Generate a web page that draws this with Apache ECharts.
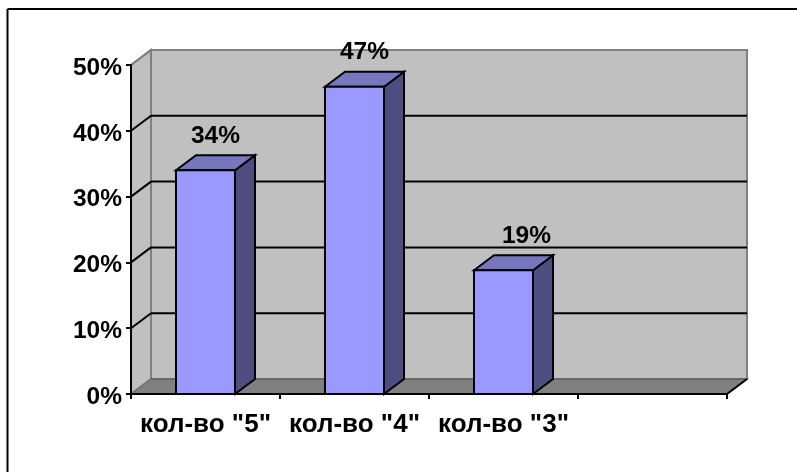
<!DOCTYPE html>
<html><head><meta charset="utf-8">
<style>html,body{margin:0;padding:0;background:#fff}#c{width:797px;height:472px}</style>
<script src="https://cdn.jsdelivr.net/npm/echarts@6/dist/echarts.min.js"></script>
</head><body><div id="c"></div>
<script>
const categories = ['кол-во "5"', 'кол-во "4"', 'кол-во "3"', ''];
const values = [0.34, 0.467, 0.188, null];
const valueLabels = ['34%', '47%', '19%', ''];
const gridValues = [0.1, 0.2, 0.3, 0.4, 0.5];
const FONT = '"Liberation Sans", Arial, sans-serif';
const DX = 20, DY = -15;
const BAR_W = 59;
const LABEL_SHIFT = [0, 0, 13, 0];
const chart = echarts.init(document.getElementById('c'), null, {renderer:'canvas'});

function poly(points, fill, stroke, lw){
  return {type:'polygon', shape:{points}, style:{fill, stroke:stroke||null, lineWidth:lw||0}};
}
function line(a,b,color,lw){
  return {type:'line', shape:{x1:a[0],y1:a[1],x2:b[0],y2:b[1]}, style:{stroke:color,lineWidth:lw,fill:null}};
}
function renderWalls(params, api){
  const cs = params.coordSys;
  const L = cs.x, R = cs.x+cs.width, T = cs.y, B = cs.y+cs.height;
  const gray='#c0c0c0', edge='#808080';
  const kids = [
    poly([[L+DX,T+DY],[R+DX,T+DY],[R+DX,B+DY],[L+DX,B+DY]],gray,edge,2),
    poly([[L,T],[L+DX,T+DY],[L+DX,B+DY],[L,B]],gray,edge,2),
    poly([[L,B],[L+DX,B+DY],[R+DX,B+DY],[R,B]],'#808080','#606060',1.5)
  ];
  gridValues.forEach(v=>{
    const y = api.coord([0,v])[1];
    if(v<0.5){
      kids.push(line([L,y],[L+DX,y+DY],'#000',2));
      kids.push(line([L+DX,y+DY],[R+DX,y+DY],'#000',2));
    }
  });
  kids.push(line([L,T],[L+DX,T+DY],edge,2));
  kids.push(line([R,B],[R+DX,B+DY],'#000',2));
  kids.push(line([L,B],[L+DX,B+DY],edge,1));
  return {type:'group',children:kids};
}
function renderBar(params, api){
  if(api.value(1)==null || isNaN(api.value(1))) return null;
  const top = api.coord([api.value(0),api.value(1)]);
  const base = api.coord([api.value(0),0]);
  const x0 = top[0]-BAR_W/2, x1 = top[0]+BAR_W/2, yt = top[1], yb = base[1];
  return {type:'group',children:[
    poly([[x1,yb],[x1+DX,yb+DY],[x1+DX,yt+DY],[x1,yt]],'#4d4d80','#000',2),
    poly([[x0,yt],[x0+DX,yt+DY],[x1+DX,yt+DY],[x1,yt]],'#7777bf','#000',2),
    poly([[x0,yt],[x1,yt],[x1,yb],[x0,yb]],'#9999ff','#000',2),
    {type:'text',style:{text:valueLabels[params.dataIndex],x:top[0]+DX/2+LABEL_SHIFT[params.dataIndex],y:yt+DY-7,
      align:'center',verticalAlign:'bottom',font:'bold 24.5px '+FONT,fill:'#000'}}
  ]};
}
chart.setOption({
  animation:false,
  backgroundColor:'#fff',
  graphic:[
    {type:'line',shape:{x1:7.5,y1:9,x2:797,y2:9},style:{stroke:'#000',lineWidth:2},z:-10},
    {type:'line',shape:{x1:7.5,y1:9,x2:7.5,y2:472},style:{stroke:'#000',lineWidth:2},z:-10}
  ],
  grid:{left:131,right:70,top:65,bottom:78},
  xAxis:{type:'category',data:categories,z:10,
    axisLine:{show:true,onZero:false,lineStyle:{color:'#000',width:2}},
    axisTick:{show:true,alignWithLabel:false,length:5,lineStyle:{color:'#000',width:2}},
    axisLabel:{color:'#000',fontFamily:FONT,fontWeight:'bold',fontSize:26,margin:18,interval:0},
    splitLine:{show:false}},
  yAxis:{type:'value',min:0,max:0.5,interval:0.1,z:10,
    axisLine:{show:true,lineStyle:{color:'#000',width:2}},
    axisTick:{show:true,length:5,lineStyle:{color:'#000',width:2}},
    axisLabel:{color:'#000',fontFamily:FONT,fontWeight:'bold',fontSize:24.5,margin:9,
      formatter:v=>'{a|'+Math.round(v*100)+'%}',
      rich:{a:{fontFamily:FONT,fontWeight:'bold',fontSize:24.5,color:'#000',padding:[6,0,0,0]}}},
    splitLine:{show:false}},
  series:[
    {type:'custom',renderItem:renderWalls,data:[[0,0]],z:1,silent:true,clip:false},
    {type:'custom',renderItem:renderBar,clip:false,z:3,
      encode:{x:0,y:1},
      data:values.map((v,i)=>[i,v])}
  ]
});
</script></body></html>
